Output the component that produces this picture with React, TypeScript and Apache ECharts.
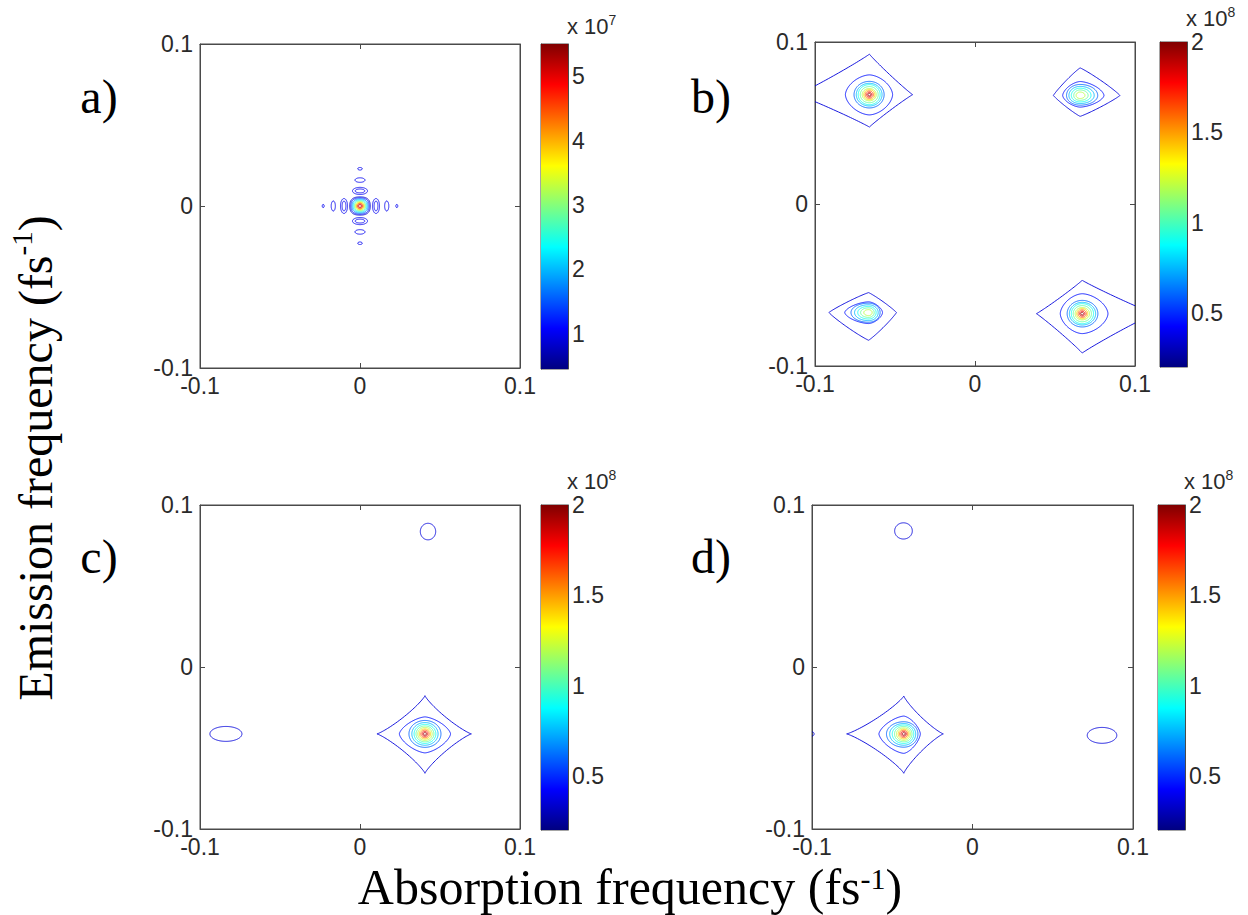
import React, { useEffect, useRef } from 'react';
import * as echarts from 'echarts';

// ---------- data ----------
const axisMin = -0.1;
const axisMax = 0.1;
const axisStep = 0.1;

// contour rows: [centerX, centerY, extentLeft, extentRight, extentUp, extentDown, shapeExponent, level]
const contoursA = [
  [0, 0, 0.0064, 0.0064, 0.0056, 0.0056, 2.6, 0.8],
  [0, 0, 0.0057, 0.0057, 0.005, 0.005, 2.6, 1.2],
  [0, 0, 0.005, 0.005, 0.0044, 0.0044, 2.4, 1.7],
  [0, 0, 0.0043, 0.0043, 0.0038, 0.0038, 2.3, 2.2],
  [0, 0, 0.0036, 0.0036, 0.0032, 0.0032, 2.2, 2.7],
  [0, 0, 0.003, 0.003, 0.0027, 0.0027, 2.1, 3.2],
  [0, 0, 0.0025, 0.0025, 0.0022, 0.0022, 2, 3.7],
  [0, 0, 0.002, 0.002, 0.0018, 0.0018, 2, 4.2],
  [0, 0, 0.0015, 0.0015, 0.0013, 0.0013, 2, 4.7],
  [0, 0, 0.0009, 0.0009, 0.0008, 0.0008, 2, 5.2],
  [0.01, 0, 0.0022, 0.0022, 0.0046, 0.0046, 2, 1.0],
  [0.01, 0, 0.0012, 0.0012, 0.003, 0.003, 2, 1.0],
  [-0.01, 0, 0.0022, 0.0022, 0.0046, 0.0046, 2, 1.0],
  [-0.01, 0, 0.0012, 0.0012, 0.003, 0.003, 2, 1.0],
  [0.0167, 0, 0.0013, 0.0013, 0.0031, 0.0031, 2, 1.0],
  [-0.0167, 0, 0.0013, 0.0013, 0.0031, 0.0031, 2, 1.0],
  [0.023, 0, 0.0006, 0.0006, 0.001, 0.001, 2, 1.0],
  [-0.023, 0, 0.0006, 0.0006, 0.001, 0.001, 2, 1.0],
  [0, 0.0093, 0.0047, 0.0047, 0.0022, 0.0022, 2, 1.0],
  [0, 0.0093, 0.003, 0.003, 0.0012, 0.0012, 2, 1.0],
  [0, -0.0093, 0.0047, 0.0047, 0.0022, 0.0022, 2, 1.0],
  [0, -0.0093, 0.003, 0.003, 0.0012, 0.0012, 2, 1.0],
  [0, 0.016, 0.0031, 0.0031, 0.0014, 0.0014, 2, 1.0],
  [0, -0.016, 0.0031, 0.0031, 0.0014, 0.0014, 2, 1.0],
  [0, 0.023, 0.0014, 0.0014, 0.0008, 0.0008, 2, 1.0],
  [0, -0.023, 0.0014, 0.0014, 0.0008, 0.0008, 2, 1.0],
];

const contoursB_TL = [
  [-0.066, 0.0675, 0.045, 0.027, 0.025, 0.02, 0.95, 0.36],
  [-0.066, 0.0675, 0.015, 0.0145, 0.0122, 0.0125, 1.7, 0.45],
  [-0.066, 0.0675, 0.0096, 0.0092, 0.0082, 0.0082, 2, 0.6],
  [-0.066, 0.0675, 0.0082, 0.0079, 0.007, 0.007, 2, 0.75],
  [-0.066, 0.0675, 0.007, 0.0067, 0.0062, 0.0062, 2, 0.9],
  [-0.066, 0.0675, 0.0057, 0.0055, 0.005, 0.005, 2, 1.05],
  [-0.066, 0.0675, 0.0045, 0.0043, 0.0038, 0.0038, 2, 1.2],
  [-0.066, 0.0675, 0.0035, 0.0034, 0.0031, 0.0031, 2, 1.4],
  [-0.066, 0.0675, 0.0026, 0.0025, 0.0023, 0.0023, 2, 1.6],
  [-0.066, 0.0675, 0.0017, 0.0016, 0.0015, 0.0015, 2, 1.8],
  [-0.066, 0.0675, 0.0009, 0.0009, 0.0008, 0.0008, 2, 1.95],
];
const contoursB_TR = [
  [0.0657, 0.067, 0.0167, 0.0249, 0.017, 0.0129, 1.1, 0.36],
  [0.0657, 0.067, 0.0109, 0.0149, 0.0086, 0.0072, 1.6, 0.45],
  [0.0657, 0.067, 0.0085, 0.011, 0.0068, 0.006, 2, 0.6],
  [0.0657, 0.067, 0.007, 0.0088, 0.0056, 0.005, 2, 0.75],
  [0.0657, 0.067, 0.0055, 0.0068, 0.0045, 0.004, 2, 0.9],
  [0.0657, 0.067, 0.004, 0.005, 0.0034, 0.003, 2, 1.05],
  [0.0657, 0.067, 0.0025, 0.003, 0.0021, 0.0019, 2, 1.2],
];
const contoursB_BL = [
  [-0.0665, -0.067, 0.0248, 0.0174, 0.0123, 0.0171, 1.1, 0.36],
  [-0.0665, -0.067, 0.0149, 0.0087, 0.0066, 0.0068, 1.6, 0.45],
  [-0.0665, -0.067, 0.011, 0.0072, 0.0058, 0.006, 2, 0.6],
  [-0.0665, -0.067, 0.0088, 0.006, 0.0048, 0.005, 2, 0.75],
  [-0.0665, -0.067, 0.0068, 0.0047, 0.0038, 0.004, 2, 0.9],
  [-0.0665, -0.067, 0.005, 0.0035, 0.0029, 0.003, 2, 1.05],
  [-0.0665, -0.067, 0.003, 0.0022, 0.0018, 0.0019, 2, 1.2],
];
const contoursB_BR = [
  [0.067, -0.0677, 0.0286, 0.045, 0.0206, 0.0243, 0.95, 0.36],
  [0.067, -0.0677, 0.0137, 0.0161, 0.0123, 0.0123, 1.7, 0.45],
  [0.067, -0.0677, 0.0094, 0.0098, 0.0082, 0.0082, 2, 0.6],
  [0.067, -0.0677, 0.008, 0.0084, 0.007, 0.007, 2, 0.75],
  [0.067, -0.0677, 0.0068, 0.0071, 0.0062, 0.0062, 2, 0.9],
  [0.067, -0.0677, 0.0056, 0.0058, 0.005, 0.005, 2, 1.05],
  [0.067, -0.0677, 0.0044, 0.0046, 0.0038, 0.0038, 2, 1.2],
  [0.067, -0.0677, 0.0034, 0.0035, 0.0031, 0.0031, 2, 1.4],
  [0.067, -0.0677, 0.0025, 0.0026, 0.0023, 0.0023, 2, 1.6],
  [0.067, -0.0677, 0.0016, 0.0017, 0.0015, 0.0015, 2, 1.8],
  [0.067, -0.0677, 0.0009, 0.0009, 0.0008, 0.0008, 2, 1.95],
];

const contoursC = [
  [0.0406, -0.0413, 0.03, 0.029, 0.0236, 0.0243, 0.85, 0.36],
  [0.0406, -0.0413, 0.016, 0.016, 0.0105, 0.0117, 1.5, 0.45],
  [0.0406, -0.0413, 0.01, 0.01, 0.0083, 0.0083, 2, 0.6],
  [0.0406, -0.0413, 0.0082, 0.0082, 0.007, 0.007, 2, 0.75],
  [0.0406, -0.0413, 0.0068, 0.0068, 0.0059, 0.0059, 2, 0.9],
  [0.0406, -0.0413, 0.0056, 0.0056, 0.0049, 0.0049, 2, 1.05],
  [0.0406, -0.0413, 0.0045, 0.0045, 0.004, 0.004, 2, 1.2],
  [0.0406, -0.0413, 0.0035, 0.0035, 0.0031, 0.0031, 2, 1.4],
  [0.0406, -0.0413, 0.0026, 0.0026, 0.0023, 0.0023, 2, 1.6],
  [0.0406, -0.0413, 0.0017, 0.0017, 0.0015, 0.0015, 2, 1.8],
  [0.0406, -0.0413, 0.0009, 0.0009, 0.0008, 0.0008, 2, 1.95],
  [0.0425, 0.0836, 0.0048, 0.0048, 0.0051, 0.0051, 2, 0.36],
  [-0.0838, -0.0413, 0.01, 0.01, 0.0046, 0.0046, 2, 0.36],
];

const contoursD = [
  [-0.0428, -0.0413, 0.0356, 0.0246, 0.0234, 0.0243, 0.85, 0.36],
  [-0.0428, -0.0413, 0.0155, 0.0103, 0.011, 0.012, 1.5, 0.45],
  [-0.0428, -0.0413, 0.0108, 0.0088, 0.0075, 0.0082, 2, 0.6],
  [-0.0428, -0.0413, 0.0088, 0.0074, 0.0064, 0.007, 2, 0.75],
  [-0.0428, -0.0413, 0.0072, 0.0062, 0.0055, 0.0059, 2, 0.9],
  [-0.0428, -0.0413, 0.0058, 0.0051, 0.0046, 0.0049, 2, 1.05],
  [-0.0428, -0.0413, 0.0046, 0.0041, 0.0037, 0.004, 2, 1.2],
  [-0.0428, -0.0413, 0.0035, 0.0032, 0.0029, 0.0031, 2, 1.4],
  [-0.0428, -0.0413, 0.0026, 0.0024, 0.0022, 0.0023, 2, 1.6],
  [-0.0428, -0.0413, 0.0017, 0.0016, 0.0015, 0.0015, 2, 1.8],
  [-0.0428, -0.0413, 0.0009, 0.0009, 0.0008, 0.0008, 2, 1.95],
  [-0.043, 0.084, 0.0055, 0.0055, 0.005, 0.005, 2, 0.36],
  [0.0807, -0.0422, 0.0092, 0.0092, 0.0049, 0.0049, 2, 0.36],
  [-0.1, -0.0413, 0.0013, 0.0013, 0.0013, 0.0013, 2, 0.36],
];

const colorRangeA = [0.45, 5.5];
const colorTicksA = [1, 2, 3, 4, 5];
const colorRangeBCD = [0.2, 2];
const colorTicksBCD = [0.5, 1, 1.5, 2];
const panelNames = ['a)', 'b)', 'c)', 'd)'];
const scaleExponents = ['7', '8', '8', '8'];
const xTitleText = 'Absorption frequency (fs';
const yTitleText = 'Emission frequency (fs';
const titleSup = '-1';

// ---------- layout (pixels) ----------
const layout = [
  { plot: [200, 44, 320, 324], bar: [541, 44, 27, 325], name: [99, 96], exp: [567, 25] },
  { plot: [815, 42, 320, 324], bar: [1160, 42, 27, 325], name: [711, 96], exp: [1186, 17] },
  { plot: [200, 505, 320, 324], bar: [541, 505, 27, 325], name: [99, 556], exp: [567, 480] },
  { plot: [812, 505, 321, 324], bar: [1158, 505, 27, 325], name: [711, 556], exp: [1184, 480] },
];

const clamp = (v: number) => Math.max(0, Math.min(1, v));
function jet(t: number) {
  t = clamp(t);
  const r = clamp(1.5 - Math.abs(4 * t - 3));
  const g = clamp(1.5 - Math.abs(4 * t - 2));
  const b = clamp(1.5 - Math.abs(4 * t - 1));
  return `rgb(${Math.round(r * 255)},${Math.round(g * 255)},${Math.round(b * 255)})`;
}
const jetStops = [0, 0.125, 0.375, 0.625, 0.875, 1].map((o) => ({ offset: o, color: jet(o) }));

const tickColor = '#2a2a2a';
const boxColor = '#4a4a4a';
const sansFont = 'Liberation Sans, Arial, sans-serif';
const serifFont = 'Liberation Serif, Times New Roman, serif';

function contourRenderer(range: number[]) {
  return (params: any, api: any) => {
    const cx = api.value(0);
    const cy = api.value(1);
    const L = api.value(2);
    const R = api.value(3);
    const U = api.value(4);
    const D = api.value(5);
    const p = api.value(6);
    const lv = api.value(7);
    const n = 180;
    const pts: number[][] = [];
    for (let k = 0; k <= n; k++) {
      const th = (2 * Math.PI * k) / n;
      const c = Math.cos(th);
      const s = Math.sin(th);
      const ux = Math.sign(c) * Math.pow(Math.abs(c), 2 / p);
      const uy = Math.sign(s) * Math.pow(Math.abs(s), 2 / p);
      const dx = ux * (ux < 0 ? L : R);
      const dy = uy * (uy > 0 ? U : D);
      pts.push(api.coord([cx + dx, cy + dy]));
    }
    return {
      type: 'polyline',
      shape: { points: pts },
      style: { stroke: jet((lv - range[0]) / (range[1] - range[0])), lineWidth: 1, fill: null, opacity: 0.9 },
      silent: true,
    };
  };
}

function colorbarRenderer(params: any, api: any) {
  const top = api.coord([0, api.value(2)]);
  const bot = api.coord([0, api.value(1)]);
  const w = api.size([1, 0])[0];
  return {
    type: 'rect',
    shape: { x: top[0] - w / 2, y: top[1], width: w, height: bot[1] - top[1] },
    style: { fill: new echarts.graphic.LinearGradient(0, 1, 0, 0, jetStops) },
    silent: true,
  };
}

const fmt = (v: number) => (Math.abs(v) < 1e-9 ? '0' : v.toFixed(1));

function buildOption() {
  const grid: any[] = [];
  const xAxis: any[] = [];
  const yAxis: any[] = [];
  const series: any[] = [];
  const graphic: any[] = [];
  const panelData = [
    contoursA,
    [...contoursB_TL, ...contoursB_TR, ...contoursB_BL, ...contoursB_BR],
    contoursC,
    contoursD,
  ];
  const tickStyle = { inside: true, length: 5, lineStyle: { color: boxColor } };
  layout.forEach((lay, i) => {
    const range = i === 0 ? colorRangeA : colorRangeBCD;
    const cticks = i === 0 ? colorTicksA : colorTicksBCD;
    const gPlot = grid.length;
    grid.push({
      left: lay.plot[0], top: lay.plot[1], width: lay.plot[2], height: lay.plot[3],
      show: true, borderColor: boxColor, borderWidth: 1, backgroundColor: '#fff',
    });
    const xb = xAxis.length;
    const valueAxisBase = {
      gridIndex: gPlot, type: 'value', min: axisMin, max: axisMax, interval: axisStep,
      splitLine: { show: false },
      axisLine: { show: true, onZero: false, lineStyle: { color: boxColor } },
      axisTick: tickStyle,
    };
    xAxis.push({
      ...valueAxisBase, position: 'bottom',
      axisLabel: { formatter: fmt, fontFamily: sansFont, fontSize: 23, color: tickColor, margin: 6 },
    });
    xAxis.push({ ...valueAxisBase, position: 'top', axisLabel: { show: false } });
    const yb = yAxis.length;
    yAxis.push({
      ...valueAxisBase, position: 'left',
      axisLabel: { formatter: fmt, fontFamily: sansFont, fontSize: 23, color: tickColor, margin: 7 },
    });
    yAxis.push({ ...valueAxisBase, position: 'right', axisLabel: { show: false } });
    series.push({
      type: 'custom',
      xAxisIndex: xb, yAxisIndex: yb,
      dimensions: ['cx', 'cy', 'l', 'r', 'u', 'd', 'p', 'lv'],
      encode: { x: 'cx', y: 'cy' },
      data: panelData[i],
      renderItem: contourRenderer(range),
      clip: true,
      silent: true,
    });

    const gBar = grid.length;
    grid.push({
      left: lay.bar[0], top: lay.bar[1], width: lay.bar[2], height: lay.bar[3],
      show: true, borderColor: boxColor, borderWidth: 1,
    });
    const cxIdx = xAxis.length;
    xAxis.push({ gridIndex: gBar, type: 'category', data: ['bar'], show: false, boundaryGap: true });
    const cyIdx = yAxis.length;
    const barAxisBase = {
      gridIndex: gBar, type: 'value', min: range[0], max: range[1],
      splitLine: { show: false },
      axisLine: { show: true, onZero: false, lineStyle: { color: boxColor } },
      axisTick: { inside: true, length: 4, customValues: cticks, lineStyle: { color: '#333' } },
    };
    yAxis.push({
      ...barAxisBase, position: 'right',
      axisLabel: {
        customValues: cticks, fontFamily: sansFont, fontSize: 23, color: tickColor, margin: 4,
        formatter: (v: number) => String(v),
      },
    });
    yAxis.push({ ...barAxisBase, position: 'left', axisLabel: { show: false } });
    series.push({
      type: 'custom',
      xAxisIndex: cxIdx, yAxisIndex: cyIdx,
      dimensions: ['c', 'lo', 'hi'],
      encode: { x: 'c', y: ['lo', 'hi'] },
      data: [[0, range[0], range[1]]],
      renderItem: colorbarRenderer,
      silent: true,
      z: 1,
    });

    graphic.push({
      type: 'text', x: lay.name[0], y: lay.name[1], silent: true,
      style: {
        text: panelNames[i], font: `48px ${serifFont}`, fill: '#000',
        align: 'center', verticalAlign: 'middle', textAlign: 'center', textVerticalAlign: 'middle',
      },
    });
    graphic.push({
      type: 'text', x: lay.exp[0], y: lay.exp[1], silent: true,
      style: {
        text: `{b|x 10}{s|${scaleExponents[i]}}`,
        align: 'left', verticalAlign: 'middle', textAlign: 'left', textVerticalAlign: 'middle',
        rich: {
          b: { fontFamily: sansFont, fontSize: 22, fill: tickColor, color: tickColor, lineHeight: 24, verticalAlign: 'bottom' },
          s: { fontFamily: sansFont, fontSize: 14, fill: tickColor, color: tickColor, lineHeight: 20, verticalAlign: 'top' },
        },
      },
    });
  });

  const titleRich = {
    n: { fontFamily: serifFont, fontSize: 50, fill: '#000', color: '#000', lineHeight: 48 },
    s: { fontFamily: serifFont, fontSize: 30, fill: '#000', color: '#000', lineHeight: 26, verticalAlign: 'top' },
  };
  graphic.push({
    type: 'text', x: 630, y: 887, silent: true,
    style: {
      text: `{n|${xTitleText}}{s|${titleSup}}{n|)}`, rich: titleRich,
      align: 'center', verticalAlign: 'middle', textAlign: 'center', textVerticalAlign: 'middle',
    },
  });
  graphic.push({
    type: 'text', x: 35, y: 458, rotation: Math.PI / 2, silent: true,
    style: {
      text: `{n|${yTitleText}}{s|${titleSup}}{n|)}`,
      rich: {
        n: { ...titleRich.n, fontSize: 48, lineHeight: 56 },
        s: { ...titleRich.s, fontSize: 29, lineHeight: 34 },
      },
      align: 'center', verticalAlign: 'middle', textAlign: 'center', textVerticalAlign: 'middle',
    },
  });

  return {
    animation: false,
    backgroundColor: '#ffffff',
    grid, xAxis, yAxis, series, graphic,
  };
}

export default function App() {
  const ref = useRef<HTMLDivElement>(null);
  useEffect(() => {
    if (!ref.current) return;
    const chart = echarts.init(ref.current, undefined, { renderer: 'svg' });
    chart.setOption(buildOption() as any);
    return () => chart.dispose();
  }, []);
  return (
    <div
      ref={ref}
      style={{ position: 'fixed', left: 0, top: 0, width: 1248, height: 915, background: '#fff' }}
    />
  );
}
